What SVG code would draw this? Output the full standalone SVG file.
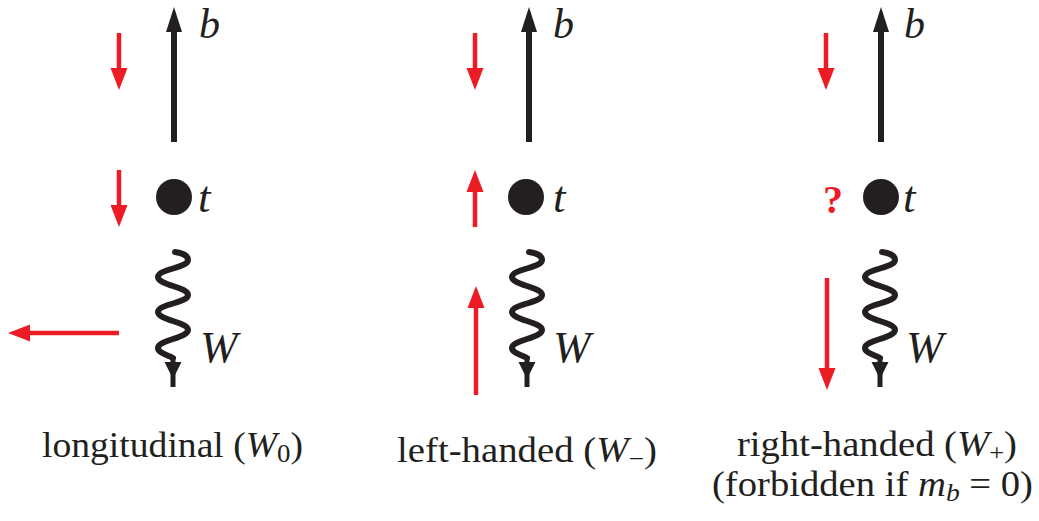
<svg xmlns="http://www.w3.org/2000/svg" xmlns:xlink="http://www.w3.org/1999/xlink" width="1039" height="521" viewBox="0 0 1039 521">
<style>
.red{stroke:#ED1C24;stroke-width:4.5;fill:none}
.blk{stroke:#231F20;stroke-width:6;fill:none}
.wave{stroke:#231F20;stroke-width:6;fill:none;stroke-linecap:round;stroke-linejoin:round}
.lab{font-family:"Liberation Serif",serif;font-style:italic;font-size:45px;fill:#231F20}
.lb{font-size:42px}
.cap{font-family:"Liberation Serif",serif;font-size:35px;fill:#231F20}
.it{font-style:italic}
.q{font-family:"Liberation Serif",serif;font-weight:bold;font-size:40px;fill:#ED1C24}
.dot{fill:#231F20}
</style>
<defs>
<marker id="rh" markerUnits="userSpaceOnUse" markerWidth="23" markerHeight="18" viewBox="0 -9 23 18" refX="0" refY="0" orient="auto">
<path d="M0,-8.5 L22,0 L0,8.5 Z" fill="#ED1C24"/>
</marker>
<marker id="bh" markerUnits="userSpaceOnUse" markerWidth="26" markerHeight="18" viewBox="0 -9 26 18" refX="0" refY="0" orient="auto">
<path d="M0,-8 L25,0 L0,8 Z" fill="#231F20"/>
</marker>
<path id="wave" d="M175,252 C183,253 188,256 188,260 C188,268 158,269 158,277 C158,285 188,287 188,295 C188,303 158,304 158,312 C158,320 188,322 188,330 C188,338 158,340 158,348 C158,353 168,355 173,358"/>
<g id="wtail">
<line x1="173" y1="357" x2="173" y2="387" stroke="#231F20" stroke-width="5"/>
<path d="M164.5,362 L181.5,362 L173,379 Z" fill="#231F20"/>
</g>
</defs>

<g id="connectors">
<!-- panel 1 -->
<line class="blk" x1="174" y1="142" x2="174" y2="32" marker-end="url(#bh)"/>
<use xlink:href="#wave" class="wave"/>
<use xlink:href="#wtail"/>
<line class="red" x1="119" y1="33" x2="119" y2="68" marker-end="url(#rh)"/>
<line class="red" x1="119" y1="170" x2="119" y2="205" marker-end="url(#rh)"/>
<line class="red" x1="119" y1="333" x2="30" y2="333" marker-end="url(#rh)"/>
<!-- panel 2 -->
<line class="blk" x1="529" y1="142" x2="529" y2="32" marker-end="url(#bh)"/>
<use xlink:href="#wave" class="wave" transform="translate(354,0)"/>
<use xlink:href="#wtail" transform="translate(354,0)"/>
<line class="red" x1="475" y1="33" x2="475" y2="68" marker-end="url(#rh)"/>
<line class="red" x1="475" y1="227" x2="475" y2="192" marker-end="url(#rh)"/>
<line class="red" x1="476" y1="395" x2="476" y2="308" marker-end="url(#rh)"/>
<!-- panel 3 -->
<line class="blk" x1="881" y1="142" x2="881" y2="32" marker-end="url(#bh)"/>
<use xlink:href="#wave" class="wave" transform="translate(707,0)"/>
<use xlink:href="#wtail" transform="translate(707,0)"/>
<line class="red" x1="826" y1="33" x2="826" y2="68" marker-end="url(#rh)"/>
<line class="red" x1="827" y1="278" x2="827" y2="368" marker-end="url(#rh)"/>
</g>

<g id="panel1">
<circle class="dot" cx="174" cy="197" r="18"/>
<text class="lab lb" x="199" y="38">b</text>
<text class="lab" x="198" y="212">t</text>
<text class="lab" x="200" y="362">W</text>
<text class="cap" x="42" y="457" textLength="261" lengthAdjust="spacingAndGlyphs">longitudinal (<tspan class="it">W</tspan><tspan font-size="25" dy="5">0</tspan><tspan dy="-5">)</tspan></text>
</g>

<g id="panel2">
<circle class="dot" cx="526" cy="197" r="18"/>
<text class="lab lb" x="553" y="38">b</text>
<text class="lab" x="553" y="212">t</text>
<text class="lab" x="553" y="362">W</text>
<text class="cap" x="397" y="462" textLength="260" lengthAdjust="spacingAndGlyphs">left-handed (<tspan class="it">W</tspan><tspan font-size="25" dy="5">−</tspan><tspan dy="-5">)</tspan></text>
</g>

<g id="panel3">
<circle class="dot" cx="881" cy="197" r="18"/>
<text class="lab lb" x="904" y="38">b</text>
<text class="lab" x="903" y="212">t</text>
<text class="lab" x="906" y="362">W</text>
<text class="q" x="833" y="213" text-anchor="middle">?</text>
<text class="cap" x="737" y="456" textLength="280" lengthAdjust="spacingAndGlyphs">right-handed (<tspan class="it">W</tspan><tspan font-size="24" dy="4">+</tspan><tspan dy="-4">)</tspan></text>
<text class="cap" x="712" y="496" textLength="321" lengthAdjust="spacingAndGlyphs">(forbidden if <tspan class="it">m</tspan><tspan class="it" font-size="25" dy="5">b</tspan><tspan dy="-5"> = 0)</tspan></text>
</g>
</svg>
